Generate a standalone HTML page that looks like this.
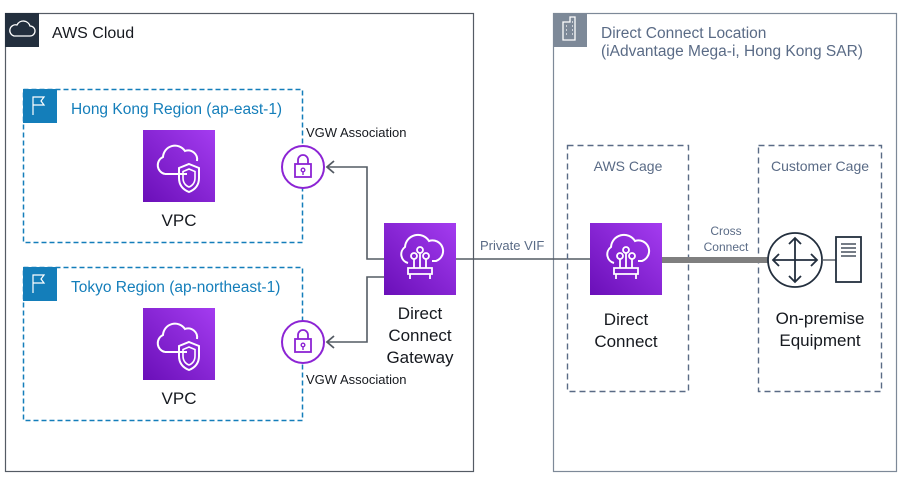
<!DOCTYPE html>
<html><head><style>
body{margin:0;background:#fff;width:903px;height:481px;overflow:hidden}
svg text{font-family:"Liberation Sans",sans-serif}
</style></head><body>
<svg width="903" height="481" viewBox="0 0 903 481" xmlns="http://www.w3.org/2000/svg">
<defs>
<linearGradient id="pg" x1="0" y1="1" x2="1" y2="0"><stop offset="0" stop-color="#6a0fb8"/><stop offset="1" stop-color="#a43cf0"/></linearGradient>
<g id="vpc"><rect width="72" height="72" fill="url(#pg)"/>
<path d="M22,44 h22 M22,44 a9,9 0 0 1 -2,-17 a12,12 0 0 1 22,-6 a9,9 0 0 1 12,10" fill="none" stroke="#fff" stroke-width="2"/>
<path d="M46,34 l10,4 v10 c0,8 -5,12 -10,14 c-5,-2 -10,-6 -10,-14 v-10 z" fill="none" stroke="#fff" stroke-width="2"/>
<path d="M46,39 l6,2.5 v6.5 c0,5 -3,8 -6,9 c-3,-1 -6,-4 -6,-9 v-6.5 z" fill="none" stroke="#fff" stroke-width="1.6"/></g>
<g id="dc"><rect width="72" height="72" fill="url(#pg)"/>
<path d="M24,40 a9,9 0 0 1 -3,-16 a13,13 0 0 1 24,-6 a10,10 0 0 1 7,20 h-4" fill="none" stroke="#fff" stroke-width="2"/>
<circle cx="30" cy="33" r="3" fill="none" stroke="#fff" stroke-width="1.8"/><circle cx="36" cy="27" r="3" fill="none" stroke="#fff" stroke-width="1.8"/><circle cx="42" cy="33" r="3" fill="none" stroke="#fff" stroke-width="1.8"/>
<path d="M30,36 v9 M36,30 v15 M42,36 v9 M24,45 h24 v6 h-24 z M26,51 v5 M46,51 v5" fill="none" stroke="#fff" stroke-width="1.8"/></g>
<g id="lock"><circle r="21" fill="#fff" stroke="#8c24d4" stroke-width="2"/>
<rect x="-8" y="-3" width="16" height="13" fill="none" stroke="#8c24d4" stroke-width="1.8"/>
<path d="M-5,-3 v-4 a5,5 0 0 1 10,0 v4" fill="none" stroke="#8c24d4" stroke-width="1.8"/>
<circle cx="0" cy="3" r="1.8" fill="none" stroke="#8c24d4" stroke-width="1.4"/><path d="M0,5 v3" stroke="#8c24d4" stroke-width="1.4"/></g>
</defs>
<rect x="5.5" y="13.5" width="468" height="458" fill="none" stroke="#545b64" stroke-width="1.2"/>
<rect x="5" y="13" width="34" height="34" fill="#232f3e"/>
<path d="M14,36 h16 a5,5 0 0 0 0,-10 a7,7 0 0 0 -13,-1 a5,5 0 0 0 -3,11 z" fill="none" stroke="#fff" stroke-width="1.3"/>
<text x="52" y="38" font-size="16" fill="#16191f">AWS Cloud</text>
<rect x="553.5" y="13.5" width="343" height="458" fill="none" stroke="#7d8998" stroke-width="1.2"/>
<rect x="553" y="13" width="34" height="34" fill="#7d8998"/>
<path d="M563,40 v-18 h7 v-5 h5 v23 z M566,26 h1 M566,30 h1 M566,34 h1 M572,22 h1 M572,26 h1 M572,30 h1 M572,34 h1" fill="none" stroke="#fff" stroke-width="1.3"/>
<text x="601" y="38" font-size="15.5" fill="#5a6b86">Direct Connect Location</text>
<text x="601" y="56" font-size="15.5" fill="#5a6b86">(iAdvantage Mega-i, Hong Kong SAR)</text>
<rect x="23.5" y="89.5" width="279" height="153" fill="none" stroke="#147eba" stroke-width="1.5" stroke-dasharray="5,3"/>
<rect x="23" y="89" width="34" height="34" fill="#147eba"/>
<path d="M33,115 v-18 h11 l-3,4 l3,4 h-11" fill="none" stroke="#fff" stroke-width="1.2"/>
<text x="71" y="114" font-size="15.5" fill="#147eba">Hong Kong Region (ap-east-1)</text>
<use href="#vpc" x="143" y="130"/>
<text x="179" y="226" font-size="17" fill="#16191f" text-anchor="middle">VPC</text>
<rect x="23.5" y="267.5" width="279" height="153" fill="none" stroke="#147eba" stroke-width="1.5" stroke-dasharray="5,3"/>
<rect x="23" y="267" width="34" height="34" fill="#147eba"/>
<path d="M33,293 v-18 h11 l-3,4 l3,4 h-11" fill="none" stroke="#fff" stroke-width="1.2"/>
<text x="71" y="292" font-size="15.5" fill="#147eba">Tokyo Region (ap-northeast-1)</text>
<use href="#vpc" x="143" y="308"/>
<text x="179" y="404" font-size="17" fill="#16191f" text-anchor="middle">VPC</text>
<path d="M384,259 H367 V167 H327" fill="none" stroke="#545b64" stroke-width="1.6"/>
<path d="M384,277 H367 V342 H327" fill="none" stroke="#545b64" stroke-width="1.6"/>
<use href="#lock" x="303" y="167"/>
<use href="#lock" x="303" y="342"/>
<path d="M334,161 L327,167 L334,173 M334,336 L327,342 L334,348" fill="none" stroke="#545b64" stroke-width="1.8"/>
<text x="306" y="137" font-size="13" fill="#16191f">VGW Association</text>
<text x="306" y="384" font-size="13" fill="#16191f">VGW Association</text>
<use href="#dc" x="384" y="223"/>
<text x="420" y="319" font-size="17" fill="#16191f" text-anchor="middle">Direct</text>
<text x="420" y="341" font-size="17" fill="#16191f" text-anchor="middle">Connect</text>
<text x="420" y="363" font-size="17" fill="#16191f" text-anchor="middle">Gateway</text>
<line x1="456" y1="259" x2="590" y2="259" stroke="#545b64" stroke-width="1.6"/>
<text x="480" y="250" font-size="13" fill="#5a6b86">Private VIF</text>
<rect x="567.5" y="145.5" width="121" height="246" fill="none" stroke="#5a6b86" stroke-width="1.4" stroke-dasharray="6,4"/>
<text x="628" y="171" font-size="14" fill="#5a6b86" text-anchor="middle">AWS Cage</text>
<rect x="758.5" y="145.5" width="123" height="246" fill="none" stroke="#5a6b86" stroke-width="1.4" stroke-dasharray="6,4"/>
<text x="820" y="171" font-size="14" fill="#5a6b86" text-anchor="middle">Customer Cage</text>
<use href="#dc" x="590" y="223"/>
<text x="626" y="325" font-size="17" fill="#16191f" text-anchor="middle">Direct</text>
<text x="626" y="347" font-size="17" fill="#16191f" text-anchor="middle">Connect</text>
<line x1="662" y1="260" x2="768" y2="260" stroke="#7f7f7f" stroke-width="6"/>
<text x="726" y="235" font-size="12" fill="#5a6b86" text-anchor="middle">Cross</text>
<text x="726" y="251" font-size="12" fill="#5a6b86" text-anchor="middle">Connect</text>
<circle cx="795" cy="260" r="27" fill="#fff" stroke="#232f3e" stroke-width="1.8"/>
<path d="M795,238 v44 M773,260 h44 M789,244 l6,-6 l6,6 M789,276 l6,6 l6,-6 M779,254 l-6,6 l6,6 M811,254 l6,6 l-6,6" fill="none" stroke="#232f3e" stroke-width="1.8"/>
<line x1="822" y1="260" x2="836" y2="260" stroke="#545b64" stroke-width="1.4"/>
<rect x="836" y="237" width="25" height="45" fill="#fff" stroke="#232f3e" stroke-width="1.8"/>
<path d="M841,244 h15 M841,248 h15 M841,252 h15 M841,256 h15" stroke="#232f3e" stroke-width="1.3"/>
<text x="820" y="324" font-size="17" fill="#16191f" text-anchor="middle">On-premise</text>
<text x="820" y="346" font-size="17" fill="#16191f" text-anchor="middle">Equipment</text>
</svg>
</body></html>
